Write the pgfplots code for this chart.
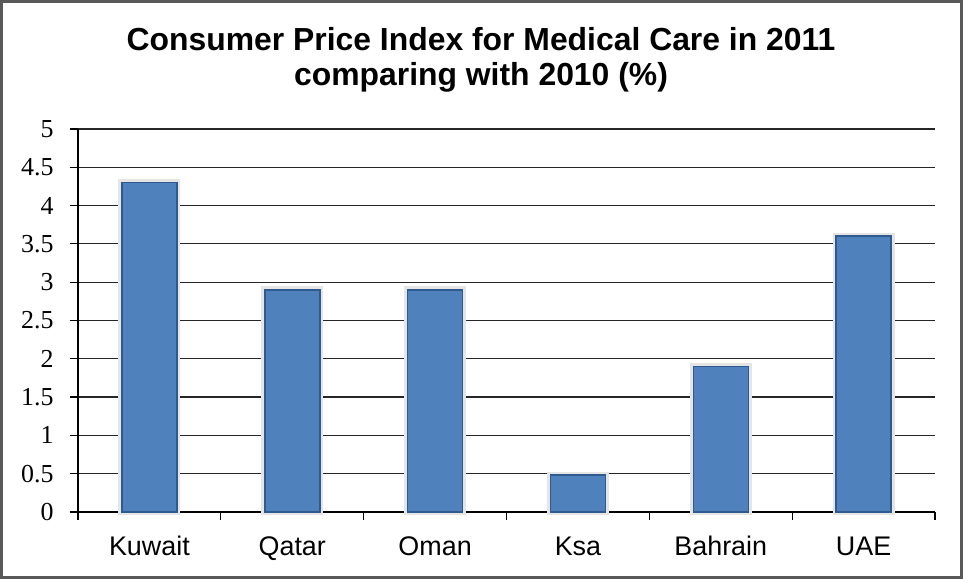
\documentclass[border=0pt]{standalone}
\usepackage{fontspec}
\setmainfont{Liberation Sans}
\newfontfamily\tickfont{Liberation Serif}
\usepackage{pgfplots}
\pgfplotsset{compat=1.18}
\definecolor{barblue}{HTML}{4F81BD}
\definecolor{baredge}{HTML}{2F5A8F}
\begin{document}
\begin{tikzpicture}[x=1bp,y=1bp]
\useasboundingbox (0,0) rectangle (963,579);
\draw[line width=3bp, draw=black!65] (1.5,1.5) rectangle (961.5,577.5);
\node[font=\fontsize{32}{35}\selectfont\bfseries, align=center] at (481,519) {Consumer Price Index for Medical Care in 2011\\comparing with 2010 (\%)};
\begin{axis}[
  at={(78bp,67bp)}, anchor=south west,
  scale only axis, width=857bp, height=383bp,
  xmin=-0.5, xmax=5.5, ymin=0, ymax=5,
  axis lines=left, axis line style={-, line width=1.2bp, black},
  ytick={0,0.5,...,5},
  yticklabel style={font=\tickfont\fontsize{26}{28}\selectfont, /pgf/number format/assume math mode=true, xshift=-13bp},
  ymajorgrids, grid style={line width=1.2bp, black!85},
  xtick={0,...,5},
  xticklabels={Kuwait,Qatar,Oman,Ksa,Bahrain,UAE},
  xticklabel style={font=\fontsize{27}{30}\selectfont, text height=20bp, text depth=6bp, yshift=-12bp},
  minor xtick={-0.5,0.5,...,5.5},
  tick style={line width=1.2bp, black},
  major tick length=8bp, minor tick length=8bp,
  tick align=outside,
  major x tick style={draw=none},
  clip=false,
]
\addplot[ybar, bar width=55bp, fill=barblue, draw=baredge, line width=1.5bp,
  preaction={draw=black!10, line width=7bp}] coordinates {
(0,4.3) (1,2.9) (2,2.9) (3,0.48) (4,1.9) (5,3.6)
};
\end{axis}
\end{tikzpicture}
\end{document}
